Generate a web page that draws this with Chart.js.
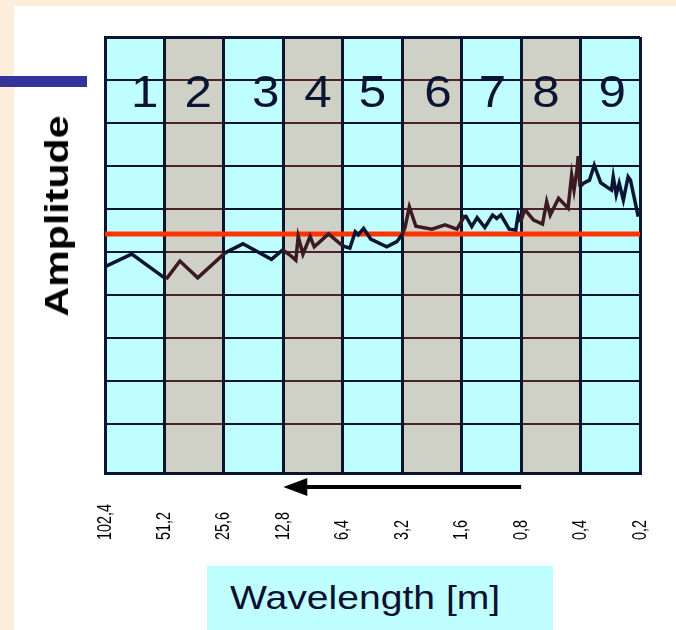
<!DOCTYPE html>
<html>
<head>
<meta charset="utf-8">
<script src="https://cdn.jsdelivr.net/npm/chart.js@4.4.0/dist/chart.umd.min.js"></script>
<style>
  html, body { margin: 0; padding: 0; }
  body { width: 676px; height: 630px; background: #fdeedb; position: relative; overflow: hidden; }
  #sheet { position: absolute; left: 14px; top: 6px; right: 0; bottom: 0; background: #fff; }
  #bar { position: absolute; left: 0; top: 76px; width: 87px; height: 11px; background: #333399; }
  #chartBox { position: absolute; left: 0; top: 0; width: 676px; height: 630px; }
  #ylabel { position: absolute; left: 56px; top: 216px; transform: translate(-50%, -50%) rotate(-90deg) scaleX(1.21);
    font: bold 34px "Liberation Sans", Arial, sans-serif; color: #000; white-space: nowrap; line-height: 1; }
  #xlabel { position: absolute; left: 207px; top: 566px; width: 346px; height: 64px; background: #c0ffff; }
  #xlabel span { position: absolute; left: 23px; top: 14px; transform-origin: 0 0; transform: scaleX(1.15);
    font: 34px "Liberation Sans", Arial, sans-serif; color: #0a1030; white-space: nowrap; line-height: 1; }
</style>
</head>
<body>
<div id="sheet"></div>
<div id="bar"></div>
<div id="chartBox"><canvas id="myChart" width="676" height="630"></canvas></div>
<div id="ylabel">Amplitude</div>
<div id="xlabel"><span>Wavelength [m]</span></div>
<script>
//** DATA */
const bandLabels = ['1', '2', '3', '4', '5', '6', '7', '8', '9'];
const grayBands = [1, 3, 5, 7];
const wavelengthTicks = ['102,4', '51,2', '25,6', '12,8', '6,4', '3,2', '1,6', '0,8', '0,4', '0,2'];
const yGrid = [1, 2, 3, 4, 5, 6, 7, 8, 9, 10];

const ampX = [0, 0.45, 1.03, 1.26, 1.56, 2.02, 2.32, 2.80, 2.99, 3.11, 3.21, 3.25, 3.33, 3.45, 3.52, 3.76,
  4.0, 4.12, 4.21, 4.26, 4.35, 4.47, 4.74, 4.91, 5.01, 5.05, 5.12, 5.23, 5.50, 5.72, 5.92, 6.06, 6.17,
  6.26, 6.39, 6.52, 6.59, 6.66, 6.80, 6.91, 6.95, 6.99, 7.05, 7.09, 7.21, 7.36, 7.43, 7.49, 7.63, 7.79,
  7.85, 7.89, 7.94, 7.96, 7.99, 8.05, 8.15, 8.23, 8.34, 8.52, 8.55, 8.60, 8.65, 8.72, 8.80, 8.84, 8.97];
const ampY = [4.66, 4.95, 4.37, 4.79, 4.40, 4.98, 5.19, 4.83, 5.05, 4.93, 4.81, 5.36, 4.95, 5.36, 5.12, 5.42,
  5.14, 5.09, 5.47, 5.40, 5.55, 5.30, 5.12, 5.24, 5.43, 5.59, 6.05, 5.60, 5.53, 5.63, 5.53, 5.86, 5.59,
  5.80, 5.57, 5.86, 5.78, 5.86, 5.53, 5.51, 5.86, 5.70, 5.94, 5.94, 5.74, 5.65, 6.17, 5.86, 6.25, 6.02,
  6.79, 6.44, 6.91, 7.23, 6.52, 6.60, 6.67, 7.02, 6.61, 6.44, 6.75, 6.33, 6.60, 6.21, 6.75, 6.67, 5.82];
const thresholdLevel = 5.42;
const arrowFrom = 7;
const arrowTo = 3;

//** STYLE */
const navy = '#0b1433';
const maroon = '#3b1a22';
const cyan = '#c0ffff';
const gray = '#cfd1c7';
const labelNudge = [10, 4, 12, 5, 0, 6, 1, -5, 2]; // px, band numbers sit a bit off-centre

function isGray(v) {
  return grayBands.includes(Math.floor(v));
}

//** BACKGROUND + OVERLAYS */
const bandsPlugin = {
  id: 'bands',
  beforeDraw(chart) {
    const { ctx, chartArea: a, scales: { x } } = chart;
    ctx.save();
    ctx.fillStyle = cyan;
    ctx.fillRect(a.left, a.top, a.width, a.height);
    ctx.fillStyle = gray;
    grayBands.forEach(b => {
      const x0 = x.getPixelForValue(b), x1 = x.getPixelForValue(b + 1);
      ctx.fillRect(x0, a.top, x1 - x0, a.height);
    });
    ctx.restore();
  },
  beforeDatasetsDraw(chart) {
    // horizontal lines look brownish inside the grey bands
    const { ctx, scales: { x, y } } = chart;
    ctx.save();
    ctx.strokeStyle = '#4a2428';
    ctx.lineWidth = 2;
    grayBands.forEach(b => {
      const x0 = x.getPixelForValue(b) + 2, x1 = x.getPixelForValue(b + 1) - 2;
      yGrid.slice(0, -1).forEach(v => {
        const py = Math.round(y.getPixelForValue(v));
        ctx.beginPath();
        ctx.moveTo(x0, py);
        ctx.lineTo(x1, py);
        ctx.stroke();
      });
    });
    ctx.restore();
  },
  afterDraw(chart) {
    const { ctx, chartArea: a, scales: { x } } = chart;
    ctx.save();
    // band numbers
    ctx.fillStyle = navy;
    ctx.font = '44px "Liberation Sans", Arial, sans-serif';
    ctx.textAlign = 'center';
    ctx.textBaseline = 'alphabetic';
    bandLabels.forEach((t, i) => {
      ctx.save();
      ctx.translate(x.getPixelForValue(i + 0.5) + labelNudge[i], a.top + 70);
      ctx.scale(1.12, 1);
      ctx.fillText(t, 0, 0);
      ctx.restore();
    });

    // wavelength tick labels, rotated
    ctx.fillStyle = '#000';
    ctx.font = '20px "Liberation Sans", Arial, sans-serif';
    ctx.textAlign = 'left';
    ctx.textBaseline = 'middle';
    wavelengthTicks.forEach((t, i) => {
      ctx.save();
      ctx.translate(x.getPixelForValue(i), a.bottom + 67);
      ctx.rotate(-Math.PI / 2);
      ctx.scale(0.72, 1);
      ctx.fillText(t, 0, 0);
      ctx.restore();
    });

    // arrow
    const ay = a.bottom + 14;
    const xs = x.getPixelForValue(arrowFrom), xe = x.getPixelForValue(arrowTo);
    ctx.strokeStyle = '#000';
    ctx.fillStyle = '#000';
    ctx.lineWidth = 4;
    ctx.beginPath();
    ctx.moveTo(xs, ay);
    ctx.lineTo(xe + 18, ay);
    ctx.stroke();
    ctx.beginPath();
    ctx.moveTo(xe, ay);
    ctx.lineTo(xe + 24, ay - 9);
    ctx.lineTo(xe + 24, ay + 9);
    ctx.closePath();
    ctx.fill();
    ctx.restore();
  }
};

const ctx = document.getElementById('myChart');

const chart = new Chart(ctx, {
  type: 'line',
  data: {
    datasets: [
      {
        data: ampX.map((v, i) => ({ x: v, y: ampY[i] })),
        borderColor: navy,
        borderWidth: 3.5,
        pointRadius: 0,
        tension: 0,
        segment: {
          borderColor: c => isGray((c.p0.parsed.x + c.p1.parsed.x) / 2) ? maroon : navy,
        },
      },
      {
        data: [{ x: 0, y: thresholdLevel }, { x: 9, y: thresholdLevel }],
        borderColor: '#ff3300',
        borderWidth: 5,
        pointRadius: 0,
      },
    ],
  },
  options: {
    responsive: false,
    devicePixelRatio: 1,
    animation: false,
    layout: { padding: { left: 105, top: 37, right: 36, bottom: 157 } },
    plugins: { legend: { display: false }, tooltip: { enabled: false } },
    scales: {
      x: {
        type: 'linear',
        min: 0,
        max: 9,
        ticks: { display: false, stepSize: 1 },
        grid: { color: navy, lineWidth: 3, drawTicks: false },
        border: { color: navy, width: 3 },
      },
      y: {
        type: 'linear',
        min: -0.14,
        max: 10,
        afterBuildTicks: s => { s.ticks = yGrid.map(v => ({ value: v })); },
        ticks: { display: false },
        grid: { color: navy, lineWidth: c => (c.tick && c.tick.value === 10 ? 3 : 2), drawTicks: false },
        border: { color: navy, width: 3 },
      },
    },
  },
  plugins: [bandsPlugin],
});
</script>
</body>
</html>
